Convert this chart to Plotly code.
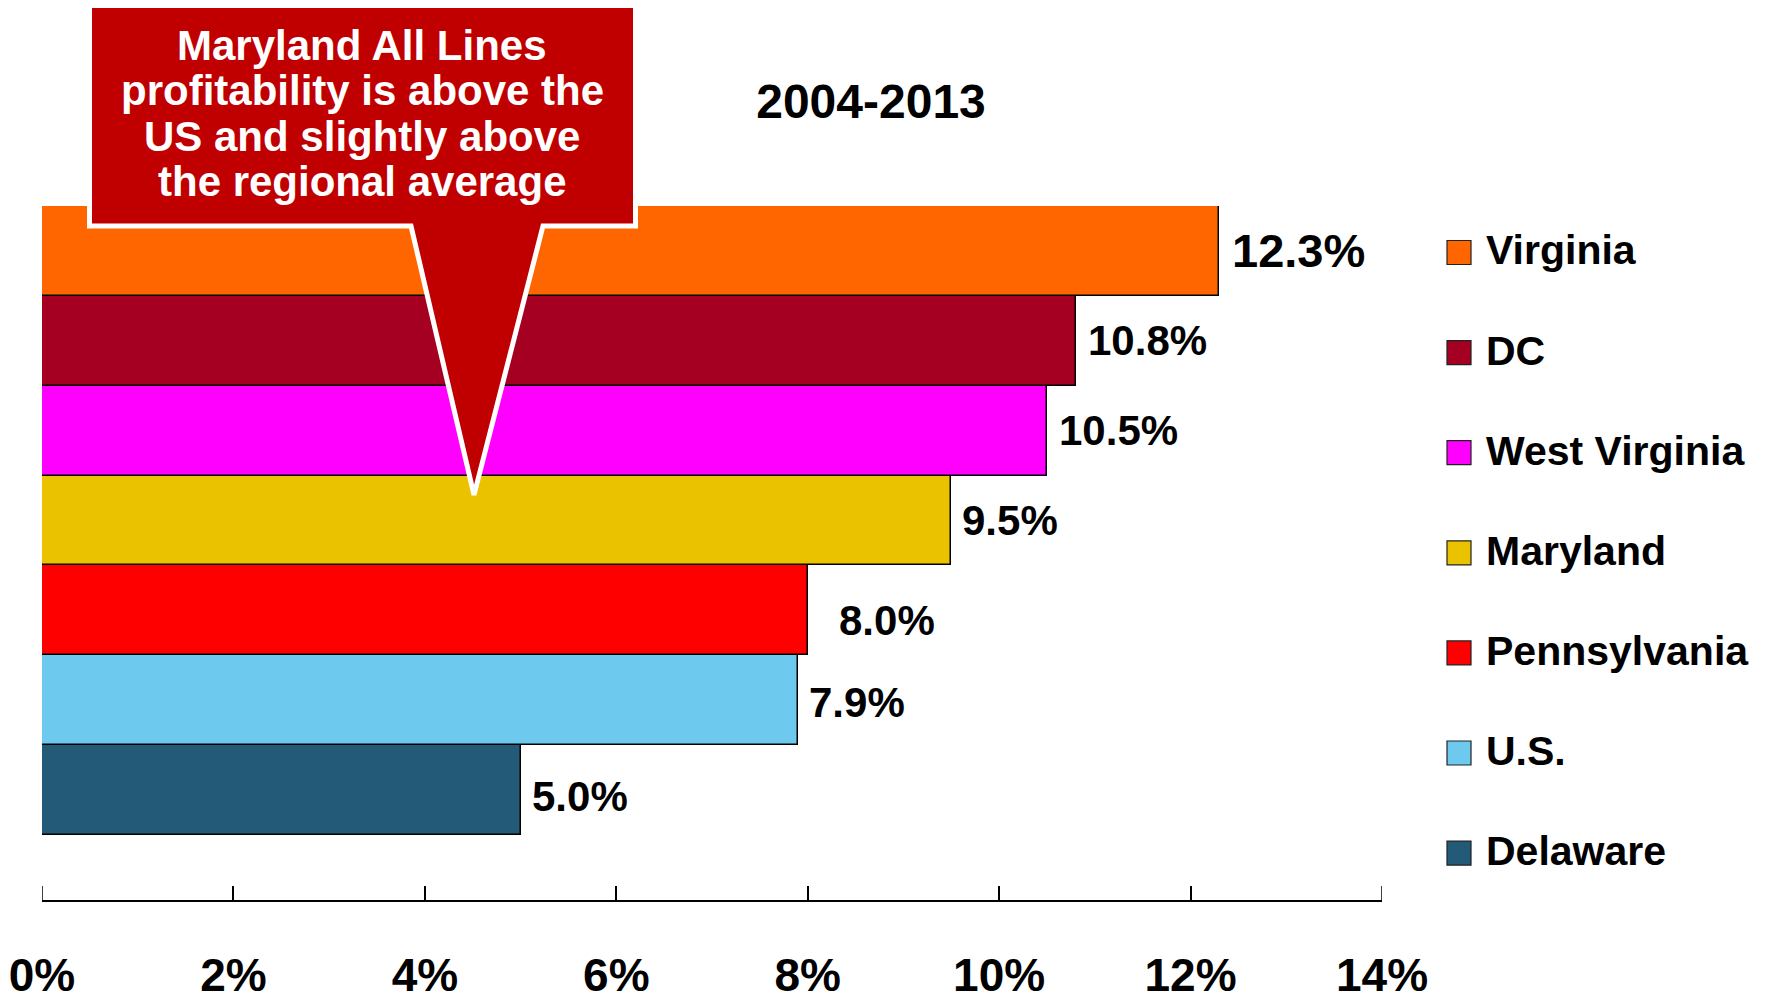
import plotly.graph_objects as go

# ---------------- data ----------------
states = ["Delaware", "U.S.", "Pennsylvania", "Maryland", "West Virginia", "DC", "Virginia"]
values = [5.0, 7.9, 8.0, 9.5, 10.5, 10.8, 12.3]
colors = ["#235A78", "#6DCAEE", "#FF0000", "#EBC200", "#FF00FF", "#A50021", "#FF6600"]
legend_order = ["Virginia", "DC", "West Virginia", "Maryland", "Pennsylvania", "U.S.", "Delaware"]
tick_vals = [0, 2, 4, 6, 8, 10, 12, 14]
tick_text = ["0%", "2%", "4%", "6%", "8%", "10%", "12%", "14%"]
x_range = [0, 14]
title_text = "2004-2013"
callout_lines = ["Maryland All Lines", "profitability is above the",
                 "US and slightly above", "the regional average"]

# label style tweaks (pixels) per state, same order as states
label_dx = [9, 9, 29, 9, 10, 10, 11]
label_dy = [-6, -2, -10, 0, 0, 0, 0]
label_size = [42, 42, 42, 42, 42, 42, 47]

FONT = "Liberation Sans, Arial, sans-serif"
OFF = 8                      # page body margin
W_PX, H_PX = 1769 - OFF, 996 - OFF
# plot area in page pixels
L, R, T, B = 42, 1382, 206, 900
PW, PH = R - L, B - T
TICKLEN = 14


def px(x):
    return (x - L) / PW


def py(y):
    return (B - y) / PH


fig = go.Figure()
for s, v, c in zip(states, values, colors):
    fig.add_trace(go.Bar(
        y=[s], x=[v], orientation="h", name=s,
        marker=dict(color=c, line=dict(color="black", width=1.5)),
        showlegend=False, hoverinfo="x+y",
    ))

# value labels
for s, v, dx, dy, fs in zip(states, values, label_dx, label_dy, label_size):
    fig.add_annotation(
        x=v, y=s, xref="x", yref="y", text=f"{v:.1f}%", showarrow=False,
        xanchor="left", yanchor="middle", xshift=dx, yshift=dy,
        font=dict(family=FONT, size=fs, color="black", weight="bold"),
    )

# end ticks (plotly drops inside ticks at the range ends)
for xv in x_range:
    fig.add_shape(type="line", xref="x", yref="paper", x0=xv, x1=xv,
                  y0=0, y1=TICKLEN / PH, line=dict(color="black", width=1.5),
                  layer="above")

# manual legend
leg_y0, leg_step = 250.5, 100.1
color_of = dict(zip(states, colors))
for i, s in enumerate(legend_order):
    cy = leg_y0 + i * leg_step
    fig.add_shape(
        type="rect", xref="paper", yref="paper",
        x0=px(1447), x1=px(1471), y0=py(cy + 2 + 12), y1=py(cy + 2 - 12),
        fillcolor=color_of[s], line=dict(color="#222222", width=1.2), layer="above",
    )
    fig.add_annotation(
        x=px(1484), y=py(cy), xref="paper", yref="paper", text=s, showarrow=False,
        xanchor="left", yanchor="middle",
        font=dict(family=FONT, size=41, color="black", weight="bold"),
    )

# callout
pts = [(89.5, 3.5), (635.5, 3.5), (635.5, 226), (543, 226), (474, 495),
       (411, 226), (89.5, 226)]
path = "M " + " L ".join(f"{px(x):.5f},{py(y):.5f}" for x, y in pts) + " Z"
fig.add_shape(type="path", xref="paper", yref="paper", path=path,
              fillcolor="#C00000", line=dict(color="white", width=5), layer="above")
line_y = [45, 90.5, 136, 181.5]
for t, ly in zip(callout_lines, line_y):
    fig.add_annotation(
        x=px(362), y=py(ly), xref="paper", yref="paper", text=t, showarrow=False,
        xanchor="center", yanchor="middle",
        font=dict(family=FONT, size=42, color="white", weight="bold"),
    )

fig.update_layout(
    width=W_PX, height=H_PX,
    margin=dict(l=L - OFF, r=W_PX - (R - OFF), t=T - OFF, b=H_PX - (B - OFF),
                autoexpand=False),
    paper_bgcolor="white", plot_bgcolor="white",
    barmode="overlay", bargap=0,
    showlegend=False,
    title=dict(text=title_text, x=(871 - OFF) / W_PX, xanchor="center",
               y=1 - (101 - OFF) / H_PX, yanchor="middle",
               font=dict(family=FONT, size=48, color="black", weight="bold")),
    xaxis=dict(range=x_range, tickvals=tick_vals, ticktext=tick_text,
               showline=True, linecolor="black", linewidth=2,
               ticks="inside", ticklen=TICKLEN, tickwidth=1.5, tickcolor="black",
               showgrid=False, zeroline=False, ticklabelstandoff=34,
               tickfont=dict(family=FONT, size=46, color="black", weight="bold")),
    yaxis=dict(type="category", categoryorder="array", categoryarray=states,
               range=[-1.224, 6.5], showticklabels=False, showline=False,
               showgrid=False, zeroline=False, ticks=""),
)

fig.write_html("out.html")
